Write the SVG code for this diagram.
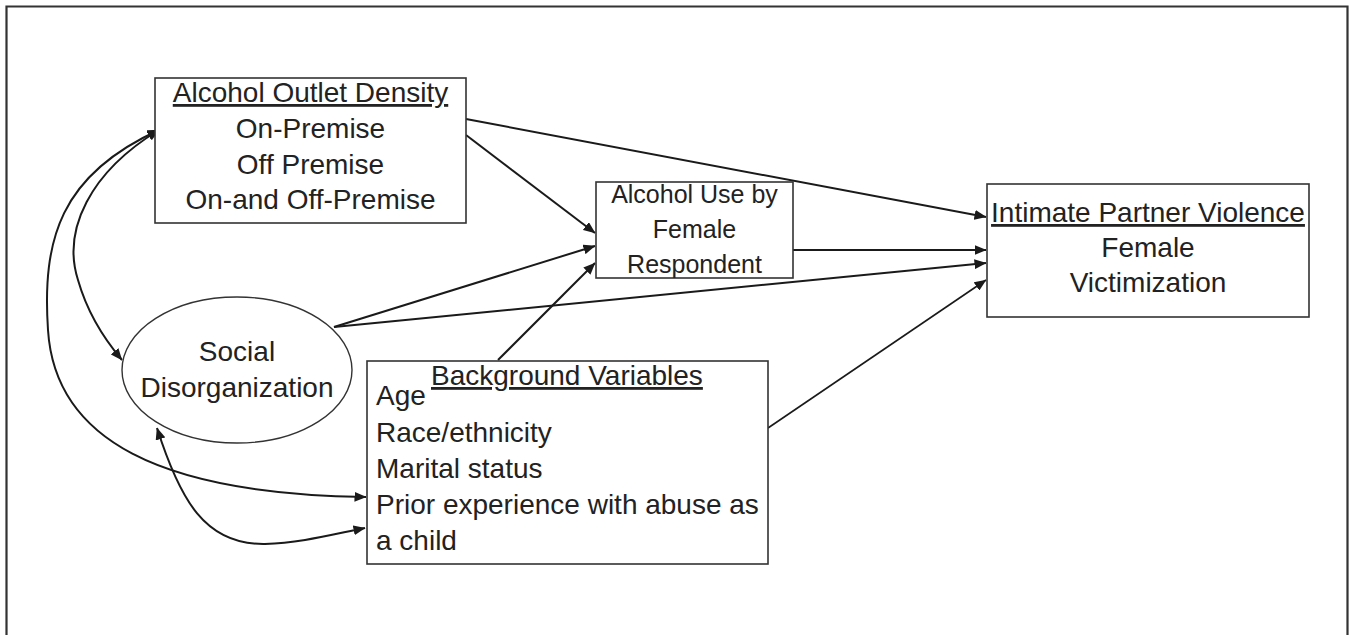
<svg xmlns="http://www.w3.org/2000/svg" width="1353" height="635" viewBox="0 0 1353 635">
<style>
.box{fill:#fff;stroke:#333;stroke-width:1.6}
.t{font-family:"Liberation Sans",Arial,sans-serif;font-size:28px;fill:#222}
.s{font-size:25px}
.c{text-anchor:middle}
.u{text-decoration:underline}
.ln{fill:none;stroke:#1a1a1a;stroke-width:2}
.thin{stroke-width:1.6}
</style>
<defs>
<marker id="ah" viewBox="0 0 12 10" refX="11.5" refY="5" markerWidth="12" markerHeight="10" markerUnits="userSpaceOnUse" orient="auto-start-reverse">
<path d="M0,0 L12,5 L0,10 z" fill="#1a1a1a"/>
</marker>
</defs>
<rect width="1353" height="635" fill="#fff"/>
<path d="M6.5,640 V6.5 H1347.5 V640" fill="none" stroke="#333" stroke-width="2.2"/>

<g id="connectors">
<line class="ln" x1="466" y1="119" x2="986" y2="217" marker-end="url(#ah)"/>
<line class="ln" x1="466" y1="135" x2="595" y2="233" marker-end="url(#ah)"/>
<line class="ln" x1="334" y1="327" x2="595" y2="246" marker-end="url(#ah)"/>
<line class="ln" x1="334" y1="327" x2="986" y2="263" marker-end="url(#ah)"/>
<line class="ln" x1="498" y1="360" x2="595" y2="263" marker-end="url(#ah)"/>
<line class="ln" x1="793" y1="250" x2="986" y2="250" marker-end="url(#ah)"/>
<line class="ln thin" x1="768" y1="428" x2="986" y2="280" marker-end="url(#ah)"/>
<path class="ln" d="M159,130 C90,172 62,230 78,280 C88,315 105,340 122,360" marker-start="url(#ah)" marker-end="url(#ah)"/>
<path class="ln" d="M159,130 C60,175 42,240 48,330 C55,440 160,494 366,497" marker-start="url(#ah)" marker-end="url(#ah)"/>
<path class="ln" d="M157,428 C180,500 205,545 265,544 C300,543 330,535 365,528" marker-start="url(#ah)" marker-end="url(#ah)"/>
</g>

<g id="alcohol-outlet-density">
<rect class="box" x="155" y="78" width="311" height="145"/>
<text class="t c u" x="310.5" y="102">Alcohol Outlet Density</text>
<text class="t c" x="310.5" y="138">On-Premise</text>
<text class="t c" x="310.5" y="174">Off Premise</text>
<text class="t c" x="310.5" y="209">On-and Off-Premise</text>
</g>

<g id="alcohol-use">
<rect class="box" x="596" y="182" width="197" height="96"/>
<text class="t s c" x="694.5" y="203">Alcohol Use by</text>
<text class="t s c" x="694.5" y="238">Female</text>
<text class="t s c" x="694.5" y="273">Respondent</text>
</g>

<g id="ipv">
<rect class="box" x="987" y="184" width="322" height="133"/>
<text class="t c u" x="1148" y="222">Intimate Partner Violence</text>
<text class="t c" x="1148" y="257">Female</text>
<text class="t c" x="1148" y="292">Victimization</text>
</g>

<g id="social-disorganization">
<ellipse cx="237" cy="370" rx="115" ry="73" fill="#fff" stroke="#333" stroke-width="1.4"/>
<text class="t c" x="237" y="361">Social</text>
<text class="t c" x="237" y="397">Disorganization</text>
</g>

<g id="background-variables">
<rect class="box" x="367" y="361" width="401" height="203"/>
<text class="t u" x="431" y="385">Background Variables</text>
<text class="t" x="376" y="405">Age</text>
<text class="t" x="376" y="442">Race/ethnicity</text>
<text class="t" x="376" y="478">Marital status</text>
<text class="t" x="376" y="514">Prior experience with abuse as</text>
<text class="t" x="376" y="550">a child</text>
</g>
</svg>
